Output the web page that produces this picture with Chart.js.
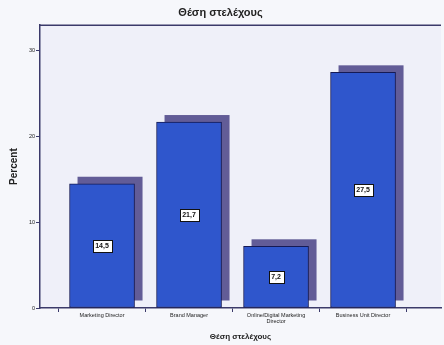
<!DOCTYPE html>
<html lang="el">
<head>
  <meta charset="UTF-8">
  <title>Θέση στελέχους</title>
  <style>
    html, body { margin: 0; padding: 0; background: #f6f7fb; }
    #wrap { width: 444px; height: 345px; }
  </style>
  <script src="https://cdn.jsdelivr.net/npm/chart.js"></script>
</head>
<body>
  <div id="wrap"><canvas id="chartCanvas" width="444" height="345"></canvas></div>

  <script>
    // Θέση στελέχους - ποσοστά
    const categories = ["Marketing Director", "Brand Manager", ["Online/Digital Marketing", "Director"], "Business Unit Director"];
    const percents = [14.5, 21.7, 7.2, 27.5];
    const yTicks = [0, 10, 20, 30];

    const FONT = "'Liberation Sans', Arial, sans-serif";
    const axisColor = "#3b3a6a";

    // plot background and the top frame line
    const frame = {
      id: "frame",
      beforeDraw(chart) {
        const { ctx, chartArea: a } = chart;
        ctx.save();
        ctx.fillStyle = "#eff0f9";
        ctx.fillRect(a.left, a.top, a.right - a.left, a.bottom - a.top);
        ctx.strokeStyle = axisColor;
        ctx.lineWidth = 1.5;
        ctx.beginPath();
        ctx.moveTo(a.left, a.top);
        ctx.lineTo(a.right, a.top);
        ctx.stroke();
        ctx.restore();
      }
    };

    // the purple depth block behind each bar
    const depth = {
      id: "depth",
      beforeDatasetsDraw(chart) {
        const { ctx } = chart;
        ctx.save();
        ctx.fillStyle = "#625c97";
        chart.getDatasetMeta(0).data.forEach(bar => {
          ctx.fillRect(bar.x - bar.width / 2 + 8, bar.y - 7, bar.width, bar.base - bar.y);
        });
        ctx.restore();
      }
    };

    // boxed value in the middle of each bar
    const valueBoxes = {
      id: "valueBoxes",
      afterDatasetsDraw(chart) {
        const { ctx } = chart;
        ctx.save();
        ctx.font = "bold 7px " + FONT;
        ctx.textAlign = "center";
        ctx.textBaseline = "middle";
        chart.getDatasetMeta(0).data.forEach((bar, i) => {
          const txt = percents[i].toFixed(1).replace(".", ",");
          const cy = (bar.y + bar.base) / 2;
          const w = Math.round(ctx.measureText(txt).width + 5);
          const bx = Math.round(bar.x - w / 2) + 0.5;
          const by = Math.round(cy - 6) + 0.5;
          ctx.fillStyle = "#ffffff";
          ctx.fillRect(bx, by, w, 12);
          ctx.strokeStyle = "#111111";
          ctx.lineWidth = 1;
          ctx.strokeRect(bx, by, w, 12);
          ctx.fillStyle = "#111111";
          ctx.fillText(txt, bar.x, cy + 0.5);
        });
        ctx.restore();
      }
    };

    new Chart(document.getElementById("chartCanvas"), {
      type: "bar",
      data: {
        datasets: [{
          label: "Percent",
          data: percents.map((v, i) => ({ x: i, y: v })),
          backgroundColor: "#2f56cc",
          borderColor: "#151a55",
          borderWidth: 1,
          borderSkipped: false,
          barThickness: 65
        }]
      },
      options: {
        responsive: false,
        animation: false,
        layout: { padding: { left: 0, right: 3, top: 0, bottom: 0 } },
        plugins: {
          legend: { display: false },
          tooltip: { enabled: false },
          title: {
            display: true,
            text: "Θέση στελέχους",
            color: "#222222",
            font: { family: FONT, size: 11, weight: "bold" },
            padding: { top: 6, bottom: 6 }
          }
        },
        scales: {
          x: {
            type: "linear",
            offset: false,
            min: -0.713,
            max: 3.896,
            afterBuildTicks: s => { s.ticks = s.ticks.filter(t => Number.isInteger(t.value) && t.value >= 0 && t.value < categories.length); },
            afterFit: s => { s.height = 37; },
            grid: { display: true, drawOnChartArea: false, color: axisColor, tickLength: 4, lineWidth: 1 },
            border: { display: true, color: axisColor, width: 1.5 },
            ticks: {
              autoSkip: false,
              maxRotation: 0,
              padding: 0,
              color: "#222222",
              font: { family: FONT, size: 5.5, lineHeight: 1.1 },
              callback: v => categories[v]
            },
            title: {
              display: true,
              text: "Θέση στελέχους",
              color: "#222222",
              font: { family: FONT, size: 8, weight: "bold" },
              padding: { top: 0, bottom: 3 }
            }
          },
          y: {
            min: 0,
            max: 33,
            afterBuildTicks: s => { s.ticks = yTicks.map(v => ({ value: v })); },
            afterFit: s => { s.width = 40; },
            grid: { display: true, drawOnChartArea: false, color: axisColor, tickLength: 4, lineWidth: 1 },
            border: { display: true, color: axisColor, width: 1.5 },
            ticks: {
              padding: 1,
              color: "#222222",
              font: { family: FONT, size: 5.5 }
            },
            title: {
              display: true,
              text: "Percent",
              color: "#222222",
              font: { family: FONT, size: 10, weight: "bold" },
              padding: { top: 8, bottom: 0 }
            }
          }
        }
      },
      plugins: [frame, depth, valueBoxes]
    });
  </script>
</body>
</html>
